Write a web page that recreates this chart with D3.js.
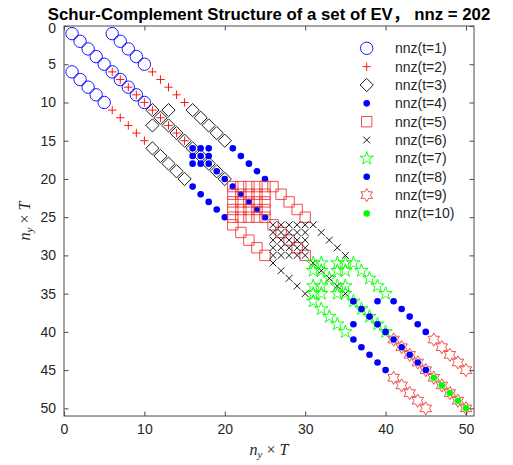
<!DOCTYPE html>
<html>
<head>
<meta charset="utf-8">
<script src="https://cdn.jsdelivr.net/npm/d3@7"></script>
<style>
  body { margin: 0; background: #fff; }
  svg { display: block; }
</style>
</head>
<body>
<svg id="chart" width="513" height="465"></svg>
<script>
// Nonzero positions [column, row] of each stage of the Schur complement.
const t1 = [[1,1],[2,2],[3,3],[4,4],[5,5],[6,6],[7,7],[8,8],[9,9],[10,10],
  [6,1],[7,2],[8,3],[9,4],[10,5],[1,6],[2,7],[3,8],[4,9],[5,10]];
const t2 = [[6,6],[7,7],[8,8],[9,9],[10,10],[11,11],[12,12],[13,13],[14,14],[15,15],
  [11,6],[12,7],[13,8],[14,9],[15,10],[6,11],[7,12],[8,13],[9,14],[10,15]];
const t3 = [[11,11],[12,12],[13,13],[14,14],[15,15],[16,16],[17,17],[18,18],[19,19],[20,20],
  [16,11],[17,12],[18,13],[19,14],[20,15],[11,16],[12,17],[13,18],[14,19],[15,20],
  [13,11],[11,13]];
const t4 = [[16,16],[17,17],[18,18],[19,19],[20,20],[21,21],[22,22],[23,23],[24,24],[25,25],
  [21,16],[22,17],[23,18],[24,19],[25,20],[16,21],[17,22],[18,23],[19,24],[20,25],
  [17,16],[18,16],[16,17],[18,17],[16,18],[17,18]];
const t5 = [[21,21],[22,22],[23,23],[24,24],[25,25],[26,26],[27,27],[28,28],[29,29],[30,30],
  [26,21],[27,22],[28,23],[29,24],[30,25],[21,26],[22,27],[23,28],[24,29],[25,30],
  [22,21],[23,21],[24,21],[25,21],[21,22],[23,22],[24,22],[25,22],[21,23],[22,23],
  [24,23],[25,23],[21,24],[22,24],[23,24],[25,24],[21,25],[22,25],[23,25],[24,25]];
const t6 = [[26,26],[27,27],[28,28],[29,29],[30,30],[31,31],[32,32],[33,33],[34,34],[35,35],
  [31,26],[32,27],[33,28],[34,29],[35,30],[26,31],[27,32],[28,33],[29,34],[30,35],
  [27,26],[28,26],[29,26],[30,26],[26,27],[28,27],[29,27],[30,27],[26,28],[27,28],
  [29,28],[30,28],[26,29],[27,29],[28,29],[30,29],[26,30],[27,30],[28,30],[29,30]];
const t7 = [[31,31],[32,32],[33,33],[34,34],[35,35],[36,36],[37,37],[38,38],[39,39],[40,40],
  [36,31],[37,32],[38,33],[39,34],[40,35],[31,36],[32,37],[33,38],[34,39],[35,40],
  [32,31],[34,31],[35,31],[31,32],[34,32],[35,32],[31,34],[32,34],[35,34],[31,35],
  [32,35],[34,35]];
const t8 = [[36,36],[37,37],[38,38],[39,39],[40,40],[41,41],[42,42],[43,43],[44,44],[45,45],
  [41,36],[42,37],[43,38],[44,39],[45,40],[36,41],[37,42],[38,43],[39,44],[40,45],
  [39,36],[36,39]];
const t9 = [[41,41],[42,42],[43,43],[44,44],[45,45],[46,46],[47,47],[48,48],[49,49],[50,50],
  [46,41],[47,42],[48,43],[49,44],[50,45],[41,46],[42,47],[43,48],[44,49],[45,50]];
const t10 = [[46,46],[47,47],[48,48],[49,49],[50,50]];

const seriesNames = ["nnz(t=1)","nnz(t=2)","nnz(t=3)","nnz(t=4)","nnz(t=5)",
  "nnz(t=6)","nnz(t=7)","nnz(t=8)","nnz(t=9)","nnz(t=10)"];
const xTicks = [0, 10, 20, 30, 40, 50];
const yTicks = [0, 5, 10, 15, 20, 25, 30, 35, 40, 45, 50];
const titleText = "Schur-Complement Structure of a set of EV\uFF0C nnz = 202";

// Marker shapes, drawn around the origin.
function starPath(points, R, r) {
  let d = "";
  for (let i = 0; i < points * 2; i++) {
    const a = -Math.PI / 2 + i * Math.PI / points;
    const rad = i % 2 === 0 ? R : r;
    d += (i === 0 ? "M" : "L") + (rad * Math.cos(a)).toFixed(2) + "," + (rad * Math.sin(a)).toFixed(2);
  }
  return d + "Z";
}
const shapes = {
  circle: r => `M${r},0A${r},${r} 0 1,1 ${-r},0A${r},${r} 0 1,1 ${r},0Z`,
  plus: h => `M${-h},0H${h}M0,${-h}V${h}`,
  cross: h => `M${-h},${-h}L${h},${h}M${-h},${h}L${h},${-h}`,
  diamond: d => `M0,${-d}L${d},0L0,${d}L${-d},0Z`,
  square: s => `M${-s},${-s}H${s}V${s}H${-s}Z`,
  pentagram: R => starPath(5, R, R * 0.382),
  hexagram: R => starPath(6, R, R / Math.sqrt(3))
};

const styles = [
  { data: t1,  path: shapes.circle(6.2),     stroke: "#0000ff", fill: "none" },
  { data: t2,  path: shapes.plus(4.2),       stroke: "#ff0000", fill: "none" },
  { data: t3,  path: shapes.diamond(6.6),    stroke: "#000000", fill: "none" },
  { data: t4,  path: shapes.circle(3.3),     stroke: "none",    fill: "#0000ff" },
  { data: t5,  path: shapes.square(5.2),     stroke: "#ee3b3b", fill: "none" },
  { data: t6,  path: shapes.cross(3.4),      stroke: "#000000", fill: "none" },
  { data: t7,  path: shapes.pentagram(7),    stroke: "#00ff00", fill: "none" },
  { data: t8,  path: shapes.circle(3.3),     stroke: "none",    fill: "#0000ff" },
  { data: t9,  path: shapes.hexagram(6.6),   stroke: "#ee3b3b", fill: "none" },
  { data: t10, path: shapes.circle(3.3),     stroke: "none",    fill: "#00ff00" }
];

const svg = d3.select("#chart");
const plotLeft = 64, plotRight = 474, plotTop = 26, plotBottom = 416;
const x = d3.scaleLinear().domain([0, 51]).range([plotLeft, plotRight]);
const y = d3.scaleLinear().domain([0, 51]).range([plotTop, plotBottom]);
const axisColor = "#4a4a4a";
const labelColor = "#262626";

// Markers
styles.forEach((s, i) => {
  svg.append("g").attr("class", "series-" + (i + 1))
    .selectAll("path").data(s.data).join("path")
    .attr("d", s.path)
    .attr("transform", d => `translate(${x(d[0])},${y(d[1])})`)
    .attr("fill", s.fill)
    .attr("stroke", s.stroke)
    .attr("stroke-width", 0.9);
});

// Axes with inward ticks on all four sides
const tick = 4.5;
const fmt = d3.format("d");
const gx = svg.append("g").attr("transform", `translate(0,${plotBottom})`)
  .call(d3.axisBottom(x).tickValues(xTicks).tickFormat(fmt).tickSizeInner(-tick).tickSizeOuter(0).tickPadding(8));
const gxTop = svg.append("g").attr("transform", `translate(0,${plotTop})`)
  .call(d3.axisTop(x).tickValues(xTicks).tickFormat("").tickSizeInner(-tick).tickSizeOuter(0));
const gy = svg.append("g").attr("transform", `translate(${plotLeft},0)`)
  .call(d3.axisLeft(y).tickValues(yTicks).tickFormat(fmt).tickSizeInner(-tick).tickSizeOuter(0).tickPadding(8));
const gyR = svg.append("g").attr("transform", `translate(${plotRight},0)`)
  .call(d3.axisRight(y).tickValues(yTicks).tickFormat("").tickSizeInner(-tick).tickSizeOuter(0));
[gx, gxTop, gy, gyR].forEach(g => {
  g.select(".domain").remove();
  g.selectAll("line").attr("stroke", axisColor);
  g.selectAll("text").attr("fill", labelColor)
    .style("font-family", "'Liberation Sans', Arial, sans-serif").style("font-size", "14px");
});
// The "0" label on the y axis sits just under the title
gy.selectAll(".tick text").filter(d => d === 0).attr("dy", "0.45em");
svg.append("rect")
  .attr("x", plotLeft).attr("y", plotTop).attr("width", plotRight - plotLeft).attr("height", plotBottom - plotTop)
  .attr("fill", "none").attr("stroke", axisColor).attr("stroke-width", 1);

// Title
svg.append("text")
  .attr("x", (plotLeft + plotRight) / 2).attr("y", 19.5)
  .attr("text-anchor", "middle")
  .style("font-family", "'Liberation Sans', Arial, 'Noto Sans CJK SC', sans-serif")
  .style("font-size", "16.8px").style("font-weight", "bold")
  .attr("fill", "#000")
  .text(titleText);

// Axis labels: n_y × T
function axisLabel(g) {
  g.style("font-family", "'Liberation Serif', 'DejaVu Serif', serif").style("font-size", "16px").attr("fill", labelColor);
  g.append("tspan").style("font-style", "italic").text("n");
  g.append("tspan").style("font-style", "italic").style("font-size", "11px").attr("dy", 3).text("y");
  g.append("tspan").attr("dy", -3).text(" \u00D7 ");
  g.append("tspan").style("font-style", "italic").text("T");
}
svg.append("text").attr("x", (plotLeft + plotRight) / 2).attr("y", 455)
  .attr("text-anchor", "middle").call(axisLabel);
svg.append("text")
  .attr("transform", `translate(30,${(plotTop + plotBottom) / 2}) rotate(-90)`)
  .attr("text-anchor", "middle").call(axisLabel);

// Legend
const legend = svg.append("g");
seriesNames.forEach((name, i) => {
  const ly = 48.3 + i * 18.35;
  const s = styles[i];
  legend.append("path").attr("d", s.path)
    .attr("transform", `translate(366.7,${ly})`)
    .attr("fill", s.fill).attr("stroke", s.stroke).attr("stroke-width", 0.9);
  legend.append("text").attr("x", 395).attr("y", ly).attr("dy", "0.35em")
    .style("font-family", "'Liberation Sans', Arial, sans-serif").style("font-size", "14px")
    .attr("fill", labelColor).text(name);
});
</script>
</body>
</html>
